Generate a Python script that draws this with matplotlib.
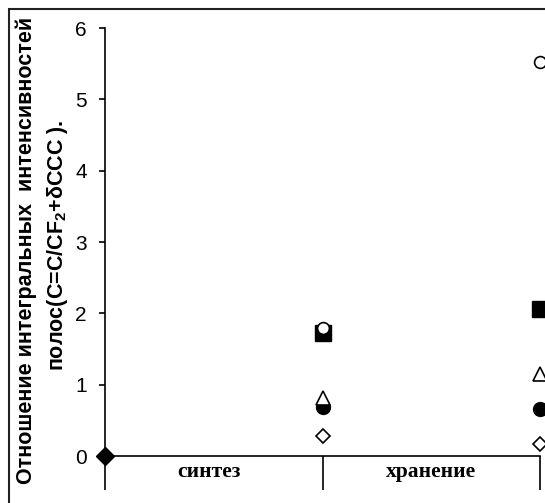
import matplotlib
matplotlib.use("Agg")
import matplotlib.pyplot as plt
from matplotlib.patches import Rectangle

# Data
positions = [0, 1, 2]
cat_labels = ["синтез", "хранение"]
y_ticks = [0, 1, 2, 3, 4, 5, 6]

start_diamond = [0.0]           # filled diamond at start
square_filled = [1.72, 2.06]    # filled squares
circle_open = [1.79, 5.52]      # open circles
circle_filled = [0.69, 0.66]    # filled circles
triangle_open = [0.81, 1.15]    # open triangles
diamond_open = [0.28, 0.17]     # open diamonds

W, H = 545, 503
fig = plt.figure(figsize=(W / 100, H / 100), dpi=100)
plt.rcParams['mathtext.fontset'] = 'custom'
plt.rcParams['mathtext.rm'] = 'Liberation Sans:bold'
plt.rcParams['mathtext.default'] = 'rm'

# outer frame (cropped at right/bottom)
fig.patches.append(Rectangle((9 / W, -0.1), 1.2, (H - 9) / H + 0.1, transform=fig.transFigure,
                             fill=False, edgecolor='#222222', linewidth=1.5))

left, right, top, bottom = 105, 540, 28, 456
ax = fig.add_axes([left / W, (H - bottom) / H, (right - left) / W, (bottom - top) / H])
ax.set_xlim(0, 2)
ax.set_ylim(0, 6)
for s in ['top', 'right']:
    ax.spines[s].set_visible(False)
for s in ['left', 'bottom']:
    ax.spines[s].set_linewidth(1.2)

ax.set_yticks(y_ticks)
ax.set_yticklabels([str(v) for v in y_ticks], fontfamily='Liberation Sans', fontsize=15)
ax.tick_params(axis='y', direction='out', length=4, width=1.2, pad=9)

ax.set_xticks(positions)
ax.set_xticklabels([])
ax.tick_params(axis='x', which='major', direction='out', length=24.5, width=1.2)
ax.set_xticks([0.48, 1.5], minor=True)
ax.set_xticklabels(cat_labels, minor=True, fontfamily='Liberation Serif', fontweight='bold', fontsize=15.5)
ax.tick_params(axis='x', which='minor', length=0, pad=4)

kw = dict(linestyle='none', clip_on=False)
ax.plot([0], start_diamond, marker='D', markersize=9, color='black', zorder=5, **kw)
ax.plot([1, 2], square_filled, marker='s', markersize=12, color='black', zorder=3, **kw)
ax.plot([1, 2], circle_open, marker='o', markersize=8.5, markerfacecolor='white',
        markeredgecolor='black', markeredgewidth=1.2, zorder=4, **kw)
ax.plot([1, 2], circle_filled, marker='o', markersize=10, color='black', zorder=3, **kw)
ax.plot([1, 2], triangle_open, marker='^', markersize=10, markerfacecolor='white',
        markeredgecolor='black', markeredgewidth=1.2, zorder=4, **kw)
ax.plot([1, 2], diamond_open, marker='D', markersize=7, markerfacecolor='white',
        markeredgecolor='black', markeredgewidth=1.2, zorder=4, **kw)

fig.text(26 / W, 1 - 250 / H, "Отношение интегральных  интенсивностей", rotation=90,
         ha='center', va='center', fontfamily='Liberation Sans', fontweight='bold', fontsize=15.5)
fig.text(58 / W, 1 - 245 / H, "полос(C=C/CF$_2$+δCCC ).", rotation=90,
         ha='center', va='center', fontfamily='Liberation Sans', fontweight='bold', fontsize=15.5)

fig.savefig("out.png", dpi=100)
